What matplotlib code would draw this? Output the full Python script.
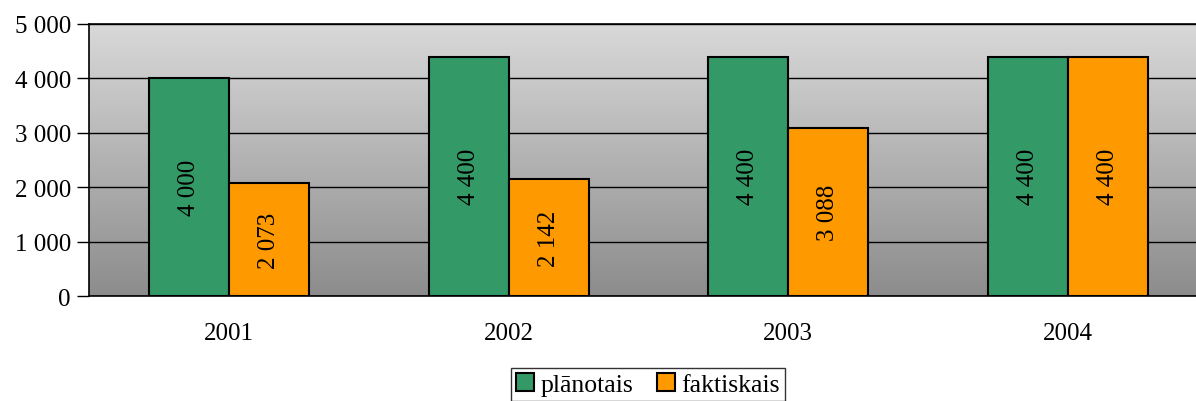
import numpy as np
import matplotlib.pyplot as plt
from matplotlib.patches import Patch

years = ["2001", "2002", "2003", "2004"]
planned = [4000, 4400, 4400, 4400]
actual = [2073, 2142, 3088, 4400]
series_names = ["plānotais", "faktiskais"]
colors = ["#339966", "#FF9900"]

plt.rcParams["font.family"] = ["Liberation Serif", "DejaVu Serif"]


def fmt(v):
    return f"{v:,}".replace(",", " ")


fig = plt.figure(figsize=(11.96, 4.02), dpi=100)
ax = fig.add_axes([89 / 1196, 1 - 297 / 402, (1208 - 89) / 1196, 272 / 402])

# gradient background: light grey at top, darker at bottom
t = np.linspace(0, 1, 256).reshape(-1, 1)
g = (0.85 * (1 - t) + 0.55 * t)
rgb = np.dstack([g, g, g])
ax.imshow(rgb, extent=[-0.5, 3.5, 0, 5000], aspect="auto", origin="upper", zorder=0)

x = np.arange(len(years))
w = 80 / 279.7
b1 = ax.bar(x - w / 2, planned, w, color=colors[0], edgecolor="black", linewidth=1.5, zorder=3)
b2 = ax.bar(x + w / 2, actual, w, color=colors[1], edgecolor="black", linewidth=1.5, zorder=3)

for bars, vals in [(b1, planned), (b2, actual)]:
    for r, v in zip(bars, vals):
        ax.text(r.get_x() + r.get_width() / 2, v / 2, fmt(v), rotation=90,
                ha="center", va="center", fontsize=18, zorder=4)

ax.set_xlim(-0.5, 3.5)
ax.set_ylim(0, 5000)
ax.set_yticks(range(0, 5001, 1000))
ax.set_yticklabels([fmt(v) for v in range(0, 5001, 1000)], fontsize=18)
ax.set_xticks(x)
ax.set_xticklabels(years, fontsize=18)
ax.tick_params(axis="x", length=0, pad=19)
ax.tick_params(axis="y", length=9, width=1, color="black", pad=4)
ax.yaxis.grid(True, color="black", linewidth=1, zorder=1)
ax.set_axisbelow(True)
for s in ["left", "bottom", "top"]:
    ax.spines[s].set_color("black")
    ax.spines[s].set_linewidth(1.2)
ax.spines["right"].set_visible(False)

handles = [Patch(facecolor=c, edgecolor="black", linewidth=1.5) for c in colors]
leg = fig.legend(handles, series_names, loc="upper center", bbox_to_anchor=(648 / 1196, 1 - 369 / 402),
                 ncol=2, fontsize=18.5, frameon=True, fancybox=False, handlelength=0.7,
                 handleheight=0.7, handletextpad=0.25, columnspacing=0.9, borderpad=0.2,
                 borderaxespad=0)
leg.get_frame().set_edgecolor("black")
leg.get_frame().set_linewidth(1)

fig.savefig("out.png", dpi=100)
